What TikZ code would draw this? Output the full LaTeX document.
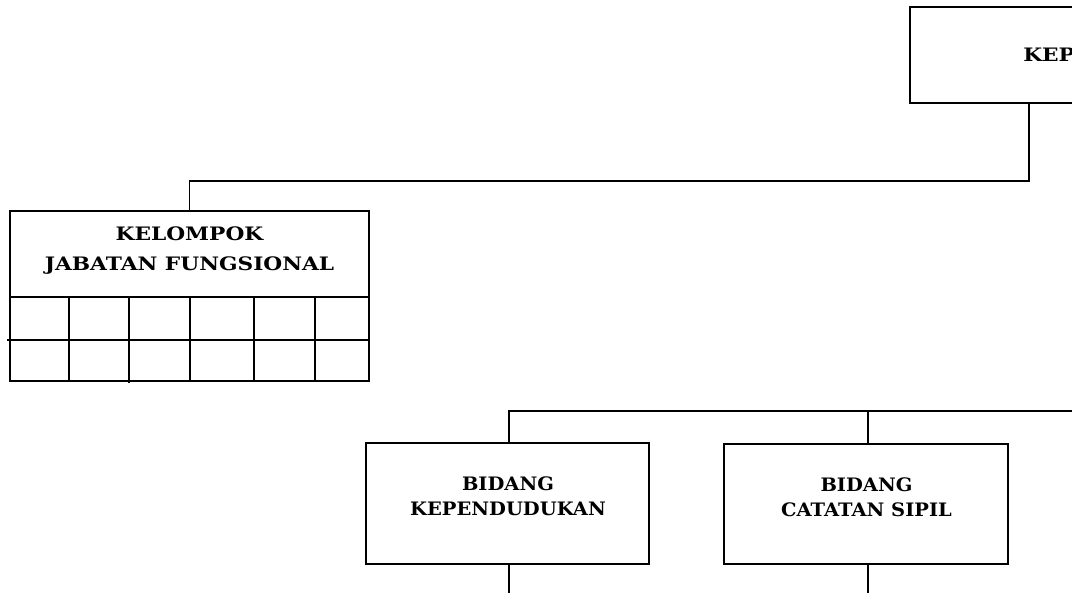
\documentclass[tikz,border=0pt]{standalone}
\usepackage{fontspec}
\newfontfamily\boxfont{DejaVu Serif}[FakeStretch=1.17]
\newfontfamily\bidfont{DejaVu Serif}[FakeStretch=1.05]
\tikzset{
  box/.style={draw,line width=1.3pt,rectangle,inner sep=0pt},
  conn/.style={line width=1.3pt},
  lbl/.style={inner sep=0pt,align=center,
    font=\boxfont\bfseries\fontsize{13.9}{22.5}\selectfont},
  blbl/.style={inner sep=0pt,align=center,
    font=\bidfont\bfseries\fontsize{13.9}{18.75}\selectfont}}
\begin{document}
\begin{tikzpicture}[x=0.75pt,y=-0.75pt]
\useasboundingbox (0,0) rectangle (1072,593);
\clip (0,0) rectangle (1072,593);
% top box (cut by the right edge)
\node[box,minimum width=330pt,minimum height=72pt] (kepala) at (1130,55) {};
\node[lbl,anchor=west] (kepalatxt) at (1023,55) {KEPALA};
% kelompok jabatan fungsional
\node[box,minimum width=269.25pt,minimum height=64.5pt] (kjf) at (189.5,254) {};
\node[lbl] (kjftxt) at (189.5,251) {KELOMPOK\\JABATAN FUNGSIONAL};
\draw[conn] (10,297) rectangle (369,381);
\draw[conn] (7,340) -- (369,340);
\foreach \xx in {69,190,254,315}{\draw[conn] (\xx,297) -- (\xx,381);}
\draw[conn] (129,297) -- (129,383);
% bidang
\node[box,minimum width=212.25pt,minimum height=90.75pt] (bk) at (507.5,503.5) {};
\node[blbl] (bktxt) at (508,496.5) {BIDANG\\KEPENDUDUKAN};
\node[box,minimum width=213pt,minimum height=90pt] (bcs) at (866,504) {};
\node[blbl] (bcstxt) at (866.5,497.5) {BIDANG\\CATATAN SIPIL};
\coordinate (barR) at (1072,411);
\coordinate (bkdown) at (509,593);
\coordinate (bcsdown) at (868,593);
% connectors
\draw[conn] ([xshift=90pt]kepala.south west) -- ++(0,77) -| (kjf.north);
\draw[conn] (bk.north -| bkdown) |- (barR);
\draw[conn] (bcs.north -| bcsdown) -- (bcsdown |- barR);
\draw[conn] (bk.south -| bkdown) -- (bkdown);
\draw[conn] (bcs.south -| bcsdown) -- (bcsdown);
\end{tikzpicture}
\end{document}
